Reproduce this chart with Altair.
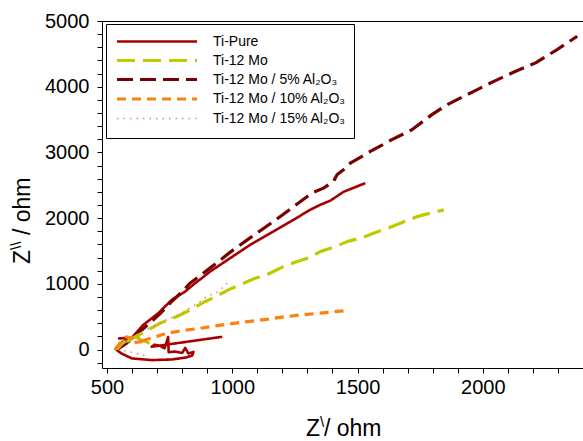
import altair as alt
import pandas as pd

# Nyquist impedance data (Z' real part, Z'' imaginary part, ohm)
ti_pure_x = [960, 678, 690, 712, 730, 744, 746, 770, 800, 812, 825, 845, 840, 815, 760, 680,
             600, 558, 533, 560, 590, 548, 625, 605, 644, 704, 758, 811, 851, 878, 911, 991,
             1071, 1164, 1244, 1311, 1351, 1391, 1444, 1531]
ti_pure_y = [195, 43, 75, 55, 20, 190, -40, -30, -50, 25, -60, -35, -90, -120, -150, -160,
             -135, -60, 10, 110, 175, 170, 186, 205, 373, 552, 755, 881, 1009, 1085, 1186, 1390,
             1593, 1796, 1974, 2127, 2203, 2265, 2400, 2533]

mo12_x = [670, 612, 570, 535, 560, 600, 650, 711, 777, 818, 891, 924, 991, 1091, 1137, 1204,
          1251, 1311, 1351, 1411, 1458, 1524, 1564, 1631, 1671, 1738, 1778, 1844]
mo12_y = [95, 190, 120, 10, 70, 170, 270, 400, 500, 576, 729, 790, 920, 1085, 1136, 1262,
          1329, 1405, 1491, 1567, 1643, 1710, 1771, 1863, 1923, 2024, 2065, 2126]

al5_x = [540, 575, 610, 660, 710, 760, 800, 831, 870, 911, 931, 991, 1071, 1164, 1237, 1317,
         1364, 1404, 1418, 1444, 1471, 1551, 1637, 1717, 1797, 1851, 1884, 1964, 2044, 2131,
         2211, 2297, 2377]
al5_y = [0, 90, 200, 370, 540, 740, 880, 1009, 1120, 1240, 1300, 1480, 1700, 1948, 2152, 2381,
         2457, 2558, 2660, 2736, 2838, 3015, 3194, 3346, 3575, 3712, 3777, 3930, 4082, 4235,
         4363, 4566, 4768]

al10_x = [533, 555, 577, 610, 638, 615, 651, 737, 800, 871, 940, 1004, 1070, 1137, 1200,
          1271, 1350, 1444]
al10_y = [5, 110, 195, 160, 119, 110, 145, 247, 290, 323, 365, 399, 430, 460, 495,
          526, 555, 590]

al15_x = [650, 600, 560, 540, 575, 620, 700, 797, 871, 897, 944, 980]
al15_y = [-90, -40, -10, 10, 110, 230, 390, 552, 729, 805, 881, 1010]

series_names = ["Ti-Pure", "Ti-12 Mo", "Ti-12 Mo / 5% Al₂O₃",
                "Ti-12 Mo / 10% Al₂O₃", "Ti-12 Mo / 15% Al₂O₃"]
series_xy = [(ti_pure_x, ti_pure_y), (mo12_x, mo12_y), (al5_x, al5_y),
             (al10_x, al10_y), (al15_x, al15_y)]

# line styles per series: colour, dash pattern, width
styles = {
    "Ti-Pure": ("#A80000", [1, 0], 2.6),
    "Ti-12 Mo": ("#BFC800", [18, 8], 3.2),
    "Ti-12 Mo / 5% Al₂O₃": ("#7A0000", [16, 7], 3.2),
    "Ti-12 Mo / 10% Al₂O₃": ("#FF7F0E", [9, 6], 3.2),
    "Ti-12 Mo / 15% Al₂O₃": ("#D9916A", [1.5, 5], 1.6),
}

FONT = "Liberation Sans"
X_DOMAIN = [480, 2400]
Y_DOMAIN = [-280, 5000]

x_scale = alt.Scale(domain=X_DOMAIN, nice=False, zero=False)
y_scale = alt.Scale(domain=Y_DOMAIN, nice=False, zero=False)

x_axis = alt.Axis(
    values=list(range(500, 2401, 100)),
    labelExpr="datum.value % 500 === 0 ? datum.label : ''",
    labelOverlap=False, labelFlush=False,
    format="d", grid=False, tickSize=5, labelPadding=4,
    domainColor="black", tickColor="black", labelColor="black",
    labelFont=FONT, labelFontSize=20, title=None,
)
y_axis = alt.Axis(
    values=list(range(-200, 5001, 200)),
    labelExpr="datum.value % 1000 === 0 ? datum.label : ''",
    labelOverlap=False, labelFlush=False,
    format="d", grid=False, tickSize=5, labelPadding=8,
    domainColor="black", tickColor="black", labelColor="black",
    labelFont=FONT, labelFontSize=20, title=None,
)

layers = []
draw_order = [0, 2, 1, 3, 4]
for k in draw_order:
    name = series_names[k]
    xs, ys = series_xy[k]
    df = pd.DataFrame({"x": xs, "y": ys, "i": range(len(xs))})
    color, dash, width = styles[name]
    layers.append(
        alt.Chart(df).mark_line(color=color, strokeDash=dash, strokeWidth=width,
                                strokeCap="butt", strokeJoin="round")
        .encode(x=alt.X("x:Q", scale=x_scale, axis=x_axis),
                y=alt.Y("y:Q", scale=y_scale, axis=y_axis),
                order="i:Q")
    )

one = pd.DataFrame({"a": [0]})

# top frame line
layers.append(
    alt.Chart(one).mark_rule(color="black", strokeWidth=1)
    .encode(x=alt.value(-4), x2=alt.value(490), y=alt.value(0.5))
)


def label(text, x, y, size=23, angle=0, align="left", baseline="alphabetic"):
    return alt.Chart(one).mark_text(
        text=text, font=FONT, fontSize=size, color="black",
        align=align, baseline=baseline, angle=angle,
    ).encode(x=alt.value(x), y=alt.value(y))


# axis titles with superscript primes
layers += [
    label("Z", 204, 415),
    label("\\", 218, 406, size=15),
    label("/ ohm", 222, 415),
    label("Z", -72, 243, angle=270),
    label("\\\\", -81, 229, size=15, angle=270),
    label(" / ohm", -72, 214, angle=270),
]

# legend box
layers.append(
    alt.Chart(one).mark_rect(fill="white", stroke="black", strokeWidth=1)
    .encode(x=alt.value(4.5), x2=alt.value(252.5), y=alt.value(3.5), y2=alt.value(117.5))
)
row_y = [20.5, 39.5, 58.5, 78, 97.5]
for name, ry in zip(series_names, row_y):
    color, dash, width = styles[name]
    layers.append(
        alt.Chart(one).mark_rule(color=color, strokeDash=dash, strokeWidth=width,
                                 strokeCap="butt")
        .encode(x=alt.value(15), x2=alt.value(95), y=alt.value(ry))
    )
    layers.append(label(name, 111, ry, size=14, baseline="middle"))

chart = alt.layer(*layers).properties(
    width=481, height=347,
    autosize=alt.AutoSizeParams(type="none"),
    padding={"left": 102, "top": 21, "right": 0, "bottom": 73},
).configure_view(stroke=None).configure(background="white")

chart.save("out.html", embed_options={"renderer": "svg", "actions": False})
